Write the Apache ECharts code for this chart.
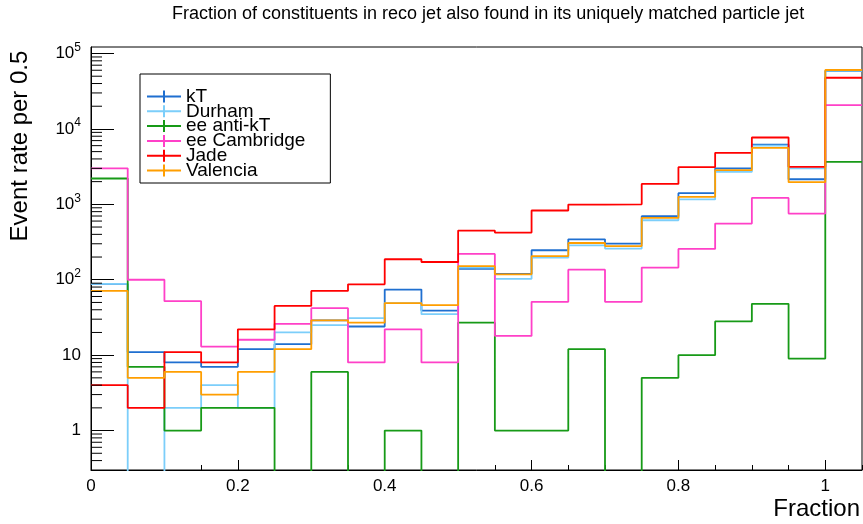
<!DOCTYPE html>
<html><head><meta charset="utf-8">
<script src="https://cdn.jsdelivr.net/npm/echarts@6/dist/echarts.min.js"></script>
<style>html,body{margin:0;padding:0;background:#fff}#c{width:863px;height:524px}</style>
</head><body><div id="c"></div>
<script>
// bin edges (Fraction), 21 bins of 0.05
const binEdges = [0,0.05,0.1,0.15,0.2,0.25,0.3,0.35,0.4,0.45,0.5,0.55,0.6,0.65,0.7,0.75,0.8,0.85,0.9,0.95,1.0,1.05];
const seriesNames = ['kT','Durham','ee anti-kT','ee Cambridge','Jade','Valencia'];
const kT          = [88, 11, 8, 7, 12, 14, 29, 24, 74, 39, 140, 120, 246, 344, 302, 695, 1404, 2990, 6200, 2150, 58500];
const durham      = [88, 0, 2, 4, 2, 20, 25, 31, 49, 35, 145, 103, 196, 286, 259, 615, 1160, 2690, 6000, 2990, 59000];
const eeAntiKT    = [2200, 7, 1, 2, 2, 0, 6, 0, 1, 0, 27, 1, 1, 12, 0, 5, 10, 28, 48, 9, 3660];
const eeCambridge = [3000, 100, 52, 13, 16, 26, 42, 8, 22, 8, 220, 18, 51, 136, 51, 145, 256, 556, 1216, 755, 20700];
const jade        = [4, 2, 11, 8, 22, 45, 71, 87, 187, 172, 449, 422, 828, 994, 1000, 1866, 3110, 4820, 7700, 3140, 47700];
const valencia    = [71, 5, 6, 3, 6, 12, 29, 27, 49, 46, 152, 118, 206, 307, 280, 660, 1253, 2840, 5600, 1965, 60400];
const seriesValues = [kT, durham, eeAntiKT, eeCambridge, jade, valencia];
const seriesColors = ['#1f6fd0','#7ccefa','#179a17','#ff40c8','#ff0000','#ff9e00'];
// minor tick positions of the log y axis
const yMinorTicks = [0.4,0.5,0.6,0.7,0.8,0.9,2,3,4,5,6,7,8,9,20,30,40,50,60,70,80,90,
  200,300,400,500,600,700,800,900,2000,3000,4000,5000,6000,7000,8000,9000,
  20000,30000,40000,50000,60000,70000,80000,90000];
const yMin = 0.3, yMax = 122000;
const FONT = 'Liberation Sans, Arial, sans-serif';

function stepData(vals){
  const d = vals.map((v,i)=>[binEdges[i], v>0 ? v : 1e-3]);
  d.push([binEdges[vals.length], vals[vals.length-1] > 0 ? vals[vals.length-1] : 1e-3]);
  return d;
}

const chart = echarts.init(document.getElementById('c'), null, {renderer:'canvas'});
const series = seriesNames.map((n,k)=>({
  name:n, type:'line', step:'end', symbol:'none', showSymbol:false,
  data: stepData(seriesValues[k]), clip:true,
  lineStyle:{color:seriesColors[k], width:1.8}, itemStyle:{color:seriesColors[k]},
  z: 2+k, animation:false
}));
series.push({
  type:'custom', name:'yminor', silent:true, z:20, clip:true,
  data: yMinorTicks.map(v=>[0,v]),
  renderItem:(params, api)=>{
    const p = api.coord([0, api.value(1)]);
    return {type:'line', shape:{x1:p[0], y1:p[1], x2:p[0]+11, y2:p[1]}, style:{stroke:'#000', lineWidth:1}};
  }
});

chart.setOption({
  animation:false,
  backgroundColor:'#fff',
  title:{text:'Fraction of constituents in reco jet also found in its uniquely matched particle jet',
    left:172, top:5, padding:0,
    textStyle:{fontSize:18, fontWeight:'normal', color:'#000', fontFamily:FONT}},
  grid:{left:91, right:1, top:47, bottom:54, show:true, borderColor:'#000', borderWidth:1, backgroundColor:'transparent'},
  legend:{
    data:seriesNames, orient:'vertical', left:140, top:74,
    backgroundColor:'#fff', borderColor:'#000', borderWidth:1,
    padding:[13,25,3,7], itemGap:-4.2, itemWidth:34, itemHeight:12,
    icon:'path://M0,5 L34,5 L34,7 L0,7 Z M16,0 L18,0 L18,12 L16,12 Z',
    textStyle:{fontSize:19, color:'#000', fontFamily:FONT},
    z:30
  },
  xAxis:[
    {type:'value', min:0, max:1.05, interval:0.05, position:'bottom',
     axisLine:{show:true, lineStyle:{color:'#000', width:1}},
     axisTick:{show:true, inside:true, length:5, lineStyle:{color:'#000'}},
     axisLabel:{show:false}, splitLine:{show:false}},
    {type:'value', min:0, max:1.05, interval:0.2, position:'bottom',
     axisLine:{show:false},
     axisTick:{show:true, inside:true, length:10, lineStyle:{color:'#000'}},
     axisLabel:{show:true, margin:8, fontSize:17, color:'#000', fontFamily:FONT, showMaxLabel:false,
       formatter:v=> (Math.abs(v-1)<1e-9 ? '1' : (v===0 ? '0' : String(+v.toFixed(1))))},
     splitLine:{show:false}}
  ],
  yAxis:{type:'log', logBase:10, min:yMin, max:yMax,
    axisLine:{show:true, lineStyle:{color:'#000', width:1}},
    axisTick:{show:true, inside:true, length:23, lineStyle:{color:'#000'}},
    splitLine:{show:false},
    axisLabel:{show:true, margin:10, color:'#000', fontFamily:FONT, fontSize:17,
      showMinLabel:false, showMaxLabel:false,
      formatter:v=>{
        const e = Math.round(Math.log10(v));
        if (e===0) return '1';
        if (e===1) return '10';
        return '{b|10}{s|'+e+'}';
      },
      rich:{b:{fontSize:17, fontFamily:FONT, color:'#000'}, s:{fontSize:12, fontFamily:FONT, color:'#000', padding:[0,0,12,0]}}
    }},
  graphic:[
    {type:'text', x:20, y:146, rotation:Math.PI/2,
     style:{text:'Event rate per 0.5', font:'24px '+FONT, fill:'#000', textAlign:'center', textVerticalAlign:'middle'}},
    {type:'text', right:3, top:497,
     style:{text:'Fraction', font:'24px '+FONT, fill:'#000'}}
  ],
  series:series
});
</script></body></html>
